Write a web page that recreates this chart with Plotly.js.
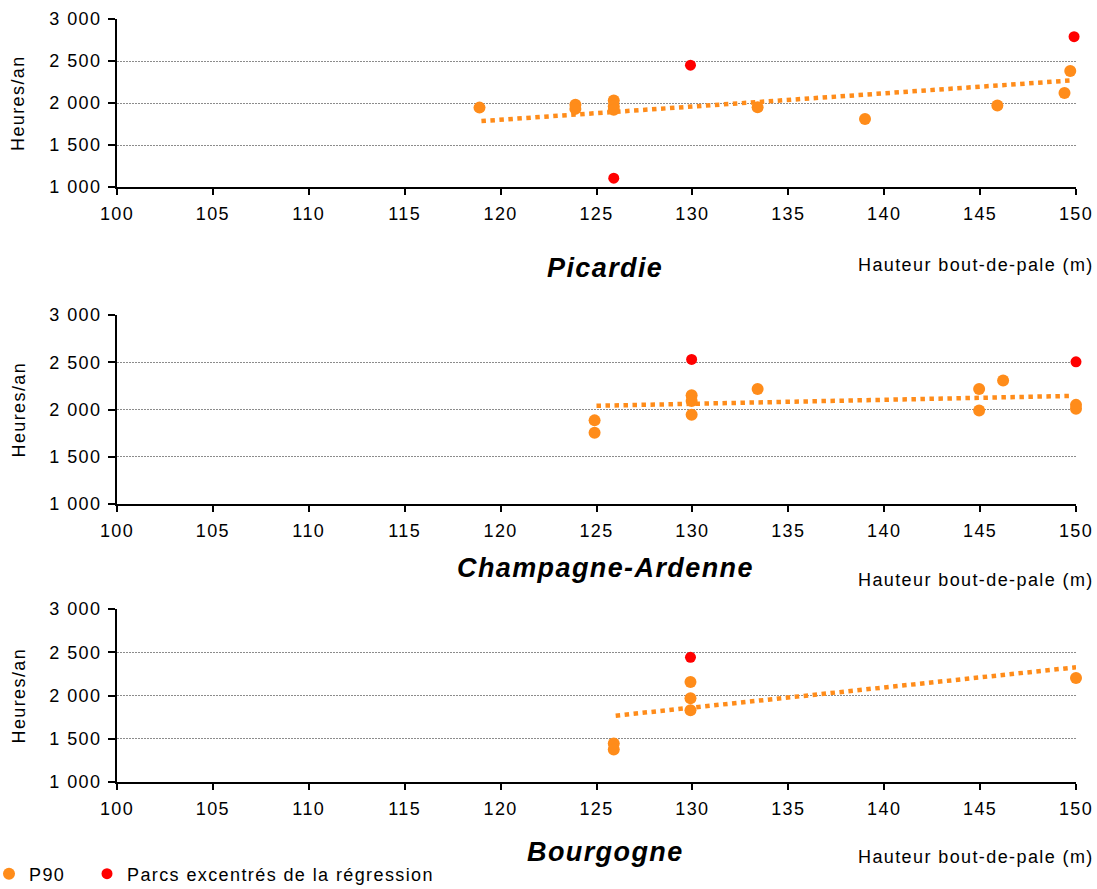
<!DOCTYPE html>
<html>
<head>
<meta charset="utf-8">
<script src="https://cdn.plot.ly/plotly-3.0.1.min.js"></script>
<style>
  html, body { margin: 0; padding: 0; background: #fff; }
  #chart { width: 1097px; height: 889px; }
  svg text { letter-spacing: 1.4px; }
</style>
</head>
<body>
<div id="chart"></div>
<script>
// ---- Data ----
const regionNames = ["Picardie", "Champagne-Ardenne", "Bourgogne"];
const xAxisTitle = "Hauteur bout-de-pale (m)";
const yAxisTitle = "Heures/an";
const p90Name = "P90";
const outlierName = "Parcs excentrés de la régression";

const yTickVals = [1000, 1500, 2000, 2500, 3000];
const yTickText = ["1 000", "1 500", "2 000", "2 500", "3 000"];
const xTickVals = [100, 105, 110, 115, 120, 125, 130, 135, 140, 145, 150];
const xTickText = ["100", "105", "110", "115", "120", "125", "130", "135", "140", "145", "150"];

// Picardie
const picardieP90X = [118.9, 123.9, 123.9, 125.9, 125.9, 125.9, 133.4, 139.0, 145.9, 149.4, 149.7];
const picardieP90Y = [1945, 1980, 1930, 2030, 1960, 1920, 1950, 1810, 1970, 2120, 2380];
const picardieOutX = [125.9, 129.9, 149.9];
const picardieOutY = [1105, 2450, 2790];
const picardieTrendX = [119, 149.7];
const picardieTrendY = [1785, 2268];

// Champagne-Ardenne
const champagneP90X = [124.9, 124.9, 129.96, 129.96, 129.96, 133.4, 144.95, 144.95, 146.2, 150, 150];
const champagneP90Y = [1885, 1755, 2150, 2090, 1945, 2218, 2218, 1989, 2306, 2049, 2007];
const champagneOutX = [129.96, 150];
const champagneOutY = [2530, 2505];
const champagneTrendX = [125, 149.8];
const champagneTrendY = [2039, 2144];

// Bourgogne
const bourgogneP90X = [125.9, 125.9, 129.9, 129.9, 129.9, 150];
const bourgogneP90Y = [1446, 1376, 2155, 1969, 1829, 2202];
const bourgogneOutX = [129.9];
const bourgogneOutY = [2442];
const bourgogneTrendX = [126, 150];
const bourgogneTrendY = [1767, 2326];

// ---- Styles ----
const ORANGE = "#FF8C1A";
const RED = "#FF0000";
const FONT = "Liberation Sans, Arial, sans-serif";

const panels = [
  {p90x: picardieP90X, p90y: picardieP90Y, ox: picardieOutX, oy: picardieOutY, tx: picardieTrendX, ty: picardieTrendY},
  {p90x: champagneP90X, p90y: champagneP90Y, ox: champagneOutX, oy: champagneOutY, tx: champagneTrendX, ty: champagneTrendY},
  {p90x: bourgogneP90X, p90y: bourgogneP90Y, ox: bourgogneOutX, oy: bourgogneOutY, tx: bourgogneTrendX, ty: bourgogneTrendY}
];

const traces = [];
panels.forEach((p, i) => {
  const xa = i === 0 ? "x" : "x" + (i + 1);
  const ya = i === 0 ? "y" : "y" + (i + 1);
  traces.push({
    type: "scatter", mode: "lines", x: p.tx, y: p.ty, xaxis: xa, yaxis: ya,
    line: {color: ORANGE, width: 4.5, dash: "4.5px,4.5px"},
    showlegend: false, hoverinfo: "skip", cliponaxis: false
  });
  traces.push({
    type: "scatter", mode: "markers", x: p.p90x, y: p.p90y, xaxis: xa, yaxis: ya,
    marker: {color: ORANGE, size: 12}, name: p90Name, showlegend: i === 0,
    legend: "legend", legendgroup: "p90", cliponaxis: false
  });
  traces.push({
    type: "scatter", mode: "markers", x: p.ox, y: p.oy, xaxis: xa, yaxis: ya,
    marker: {color: RED, size: 11}, name: outlierName, showlegend: i === 0,
    legend: "legend2", legendgroup: "out", cliponaxis: false
  });
});

// Layout geometry (pixels)
const L = 117, R = 1076, T = 19, B = 782;
const W = R - L, H = B - T;
const px = v => (v - L) / W;
const py = v => (B - v) / H;

function xaxisDef(anchor) {
  return {
    anchor: anchor, range: [100, 150], tickvals: xTickVals, ticktext: xTickText,
    showgrid: false, zeroline: false, showline: true, linecolor: "#000", linewidth: 2,
    ticks: "outside", ticklen: 6, tickwidth: 2, tickcolor: "#000", ticklabelstandoff: 3,
    tickfont: {family: FONT, size: 18, color: "#000"}, fixedrange: true, automargin: false
  };
}
function yaxisDef(anchor, dom) {
  return {
    anchor: anchor, domain: dom, range: [1000, 3000], tickvals: yTickVals, ticktext: yTickText,
    showgrid: true, gridcolor: "#8c8c8c", gridwidth: 1, griddash: "2px,1px",
    zeroline: false, showline: true, linecolor: "#000", linewidth: 2,
    ticks: "outside", ticklen: 7, tickwidth: 2, tickcolor: "#000", ticklabelstandoff: 3,
    tickfont: {family: FONT, size: 18, color: "#000"}, fixedrange: true, automargin: false
  };
}

const panelPix = [[19, 187], [315, 504], [609, 782]];
const doms = panelPix.map(([t, b]) => [Math.max(0, py(b)), Math.min(1, py(t))]);

const annotations = [];
const titleY = [268, 568, 852];
const xTitleY = [265, 580, 857];
regionNames.forEach((name, i) => {
  annotations.push({
    xref: "paper", yref: "paper", x: px(605), y: py(titleY[i]), xanchor: "center", yanchor: "middle",
    text: "<b><i>" + name + "</i></b>", showarrow: false,
    font: {family: FONT, size: 27, color: "#000"}
  });
  annotations.push({
    xref: "paper", yref: "paper", x: px(1096), y: py(xTitleY[i]), xanchor: "right", yanchor: "middle",
    text: xAxisTitle, showarrow: false, font: {family: FONT, size: 18, color: "#000"}
  });
  const mid = (panelPix[i][0] + panelPix[i][1]) / 2;
  annotations.push({
    xref: "paper", yref: "paper", x: px(18), y: py(mid), xanchor: "center", yanchor: "middle",
    text: yAxisTitle, textangle: -90, showarrow: false, font: {family: FONT, size: 18, color: "#000"}
  });
});

function legendDef(leftPx) {
  return {
    orientation: "h", x: px(leftPx), y: py(874), xanchor: "left", yanchor: "middle",
    font: {family: FONT, size: 18, color: "#000"}, bgcolor: "rgba(0,0,0,0)",
    itemwidth: 30, traceorder: "normal"
  };
}

const layout = {
  width: 1097, height: 889,
  margin: {l: L, r: 1097 - R, t: T, b: 889 - B, pad: 0, autoexpand: false},
  paper_bgcolor: "#fff", plot_bgcolor: "#fff",
  font: {family: FONT, size: 18, color: "#000"},
  xaxis: xaxisDef("y"), xaxis2: xaxisDef("y2"), xaxis3: xaxisDef("y3"),
  yaxis: yaxisDef("x", doms[0]), yaxis2: yaxisDef("x2", doms[1]), yaxis3: yaxisDef("x3", doms[2]),
  showlegend: true,
  legend: legendDef(-11),
  legend2: legendDef(87),
  annotations: annotations
};

Plotly.newPlot("chart", traces, layout, {displayModeBar: false, staticPlot: true});
</script>
</body>
</html>
